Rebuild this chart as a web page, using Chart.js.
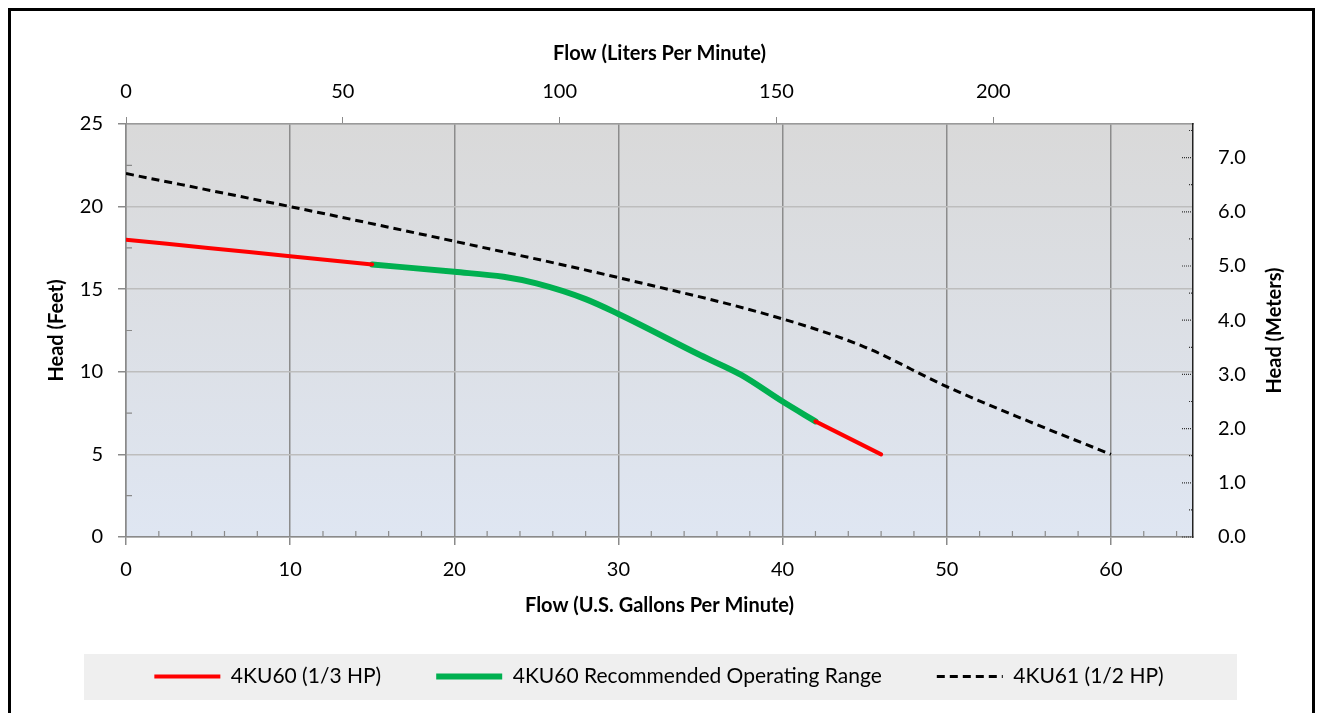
<!DOCTYPE html>
<html>
<head>
<meta charset="utf-8">
<title>Pump curve</title>
<script src="https://cdn.jsdelivr.net/npm/chart.js@4.4.0/dist/chart.umd.min.js"></script>
<style>
  html, body { margin: 0; padding: 0; background: #fff; }
  #wrap { width: 1318px; height: 713px; position: relative; }
</style>
</head>
<body>
<div id="wrap"><canvas id="pumpChart"></canvas></div>
<script>
// flow in US GPM, head in feet
var redGpm    = [0, 5, 10, 15, 30, 42, 44, 46];
var redHead   = [18, 17.5, 17, 16.5, null, 7, 6, 5];
var greenGpm  = [15, 20, 23, 25, 28, 30, 35, 37.5, 40, 42];
var greenHead = [16.5, 16.05, 15.75, 15.35, 14.4, 13.5, 11.0, 9.8, 8.2, 7.0];
var blackGpm  = [0, 10, 20, 30, 40, 45, 50, 55, 60];
var blackHead = [22, 20, 17.9, 15.7, 13.2, 11.5, 9.1, 7.0, 5.0];
var seriesNames = ['4KU60 (1/3 HP)', '4KU60 Recommended Operating Range', '4KU61 (1/2 HP)'];

var GPM_MAX = 65, FT_MAX = 25;
var LPM_PER_GPM = 3.78541, M_PER_FT = 0.3048;

var FONT = 'Lato, "Open Sans", sans-serif';

function toPoints(xs, ys) {
    var pts = [];
    for (var i = 0; i < xs.length; i++) pts.push({x: xs[i], y: ys[i]});
    return pts;
}

// frame, plot gradient, legend panel
var backdrop = {
    id: 'backdrop',
    beforeDraw: function(chart) {
        var ctx = chart.ctx, a = chart.chartArea;
        ctx.save();
        var g = ctx.createLinearGradient(0, a.top, 0, a.bottom);
        g.addColorStop(0, '#d9d9d9');
        g.addColorStop(1, '#dfe6f2');
        ctx.fillStyle = g;
        ctx.fillRect(a.left, a.top, a.right - a.left, a.bottom - a.top);
        ctx.fillStyle = '#efefef';
        ctx.fillRect(84, 654, 1153, 46);
        ctx.restore();
    },
    afterDraw: function(chart) {
        var ctx = chart.ctx, a = chart.chartArea;
        var sx = chart.scales.x, sy = chart.scales.y, sy2 = chart.scales.y2;
        ctx.save();
        // minor ticks, left and bottom
        ctx.strokeStyle = '#8a8a8a';
        ctx.lineWidth = 1.2;
        ctx.beginPath();
        for (var v = 2.5; v < FT_MAX; v += 5) {
            var py = sy.getPixelForValue(v);
            ctx.moveTo(a.left, py); ctx.lineTo(a.left + 6, py);
        }
        for (var gx = 2; gx < GPM_MAX; gx += 2) {
            if (gx % 10 === 0) continue;
            var px = sx.getPixelForValue(gx);
            ctx.moveTo(px, a.bottom); ctx.lineTo(px, a.bottom - 6);
        }
        ctx.stroke();
        // dotted ticks on the meters axis
        ctx.strokeStyle = '#333';
        ctx.setLineDash([1, 1]);
        ctx.beginPath();
        for (var m = 0; m <= 7.5; m += 0.5) {
            var my = sy2.getPixelForValue(m);
            var len = (m % 1 === 0) ? 11 : 4;
            ctx.moveTo(a.right - len, my); ctx.lineTo(a.right, my);
        }
        ctx.stroke();
        ctx.setLineDash([]);
        // right axis title, reading bottom to top
        ctx.translate(1275, (a.top + a.bottom) / 2);
        ctx.rotate(-Math.PI / 2);
        ctx.font = 'bold 20px ' + FONT;
        ctx.fillStyle = '#000';
        ctx.textAlign = 'center';
        ctx.textBaseline = 'middle';
        ctx.fillText('Head (Meters)', 0, 0);
        ctx.restore();
        // outer frame
        ctx.save();
        ctx.strokeStyle = '#000';
        ctx.lineWidth = 3;
        ctx.strokeRect(9.5, 9.5, 1304, 720);
        ctx.restore();
    }
};

var ctx = document.getElementById('pumpChart').getContext('2d');
var pumpChart = new Chart(ctx, {
    type: 'line',
    data: {
        datasets: [{
            label: seriesNames[0],
            data: toPoints(redGpm, redHead),
            borderColor: '#ff0000',
            backgroundColor: '#ff0000',
            borderWidth: 4,
            borderCapStyle: 'round',
            pointRadius: 0,
            pointStyle: 'line',
            spanGaps: false,
            cubicInterpolationMode: 'monotone'
        }, {
            label: seriesNames[1],
            data: toPoints(greenGpm, greenHead),
            borderColor: '#00b050',
            backgroundColor: '#00b050',
            borderWidth: 6,
            borderCapStyle: 'round',
            pointRadius: 0,
            pointStyle: 'line',
            cubicInterpolationMode: 'monotone'
        }, {
            label: seriesNames[2],
            data: toPoints(blackGpm, blackHead),
            borderColor: '#000000',
            backgroundColor: '#000000',
            borderWidth: 3,
            borderDash: [8, 5],
            pointRadius: 0,
            pointStyle: 'line',
            cubicInterpolationMode: 'monotone'
        }]
    },
    options: {
        responsive: true,
        maintainAspectRatio: false,
        animation: false,
        layout: { padding: { left: 0, right: 0, top: 0, bottom: 16 } },
        plugins: {
            tooltip: { enabled: false },
            legend: {
                position: 'bottom',
                labels: {
                    usePointStyle: true,
                    pointStyle: 'line',
                    pointStyleWidth: 66,
                    padding: 55,
                    color: '#000',
                    font: { family: FONT, size: 21 },
                    generateLabels: function(chart) {
                        var items = Chart.defaults.plugins.legend.labels.generateLabels(chart);
                        items.forEach(function(it) {
                            var ds = chart.data.datasets[it.datasetIndex];
                            it.lineDash = ds.borderDash || [];
                            it.lineWidth = ds.borderWidth;
                            it.lineCap = 'butt';
                        });
                        return items;
                    }
                }
            }
        },
        scales: {
            x: {
                type: 'linear',
                position: 'bottom',
                min: 0,
                max: GPM_MAX,
                afterFit: function(s) { s.height = 74; },
                ticks: { stepSize: 10, includeBounds: false, padding: 13, color: '#000', font: { family: FONT, size: 20 } },
                grid: { color: '#8c8c8c', lineWidth: 1.5, tickColor: '#8a8a8a', tickLength: 8 },
                border: { color: '#8a8a8a', width: 1.5 },
                title: { display: true, text: 'Flow (U.S. Gallons Per Minute)', color: '#000', font: { family: FONT, size: 20, weight: 'bold' }, padding: { top: 0, bottom: -7 } }
            },
            x2: {
                type: 'linear',
                position: 'top',
                min: 0,
                max: GPM_MAX * LPM_PER_GPM,
                afterFit: function(s) { s.height = 124; },
                ticks: { stepSize: 50, includeBounds: false, padding: 13, color: '#000', font: { family: FONT, size: 20 } },
                grid: { drawOnChartArea: false, tickColor: '#8a8a8a', tickLength: 7 },
                border: { color: '#9a9a9a', width: 1.5 },
                title: { display: true, text: 'Flow (Liters Per Minute)', color: '#000', font: { family: FONT, size: 20, weight: 'bold' }, padding: { top: 42, bottom: 0 } }
            },
            y: {
                type: 'linear',
                position: 'left',
                min: 0,
                max: FT_MAX,
                afterFit: function(s) { s.width = 126; },
                ticks: { stepSize: 5, padding: 15, color: '#000', font: { family: FONT, size: 20 } },
                grid: { color: '#bdbdbd', lineWidth: 1.5, tickColor: '#8a8a8a', tickLength: 8 },
                border: { color: '#8a8a8a', width: 1.5 },
                title: { display: true, text: 'Head (Feet)', color: '#000', font: { family: FONT, size: 20, weight: 'bold' }, padding: { top: 45, bottom: 0 } }
            },
            y2: {
                type: 'linear',
                position: 'right',
                min: 0,
                max: FT_MAX * M_PER_FT,
                afterFit: function(s) { s.width = 125; },
                ticks: {
                    stepSize: 1, includeBounds: false, padding: 25, color: '#000',
                    font: { family: FONT, size: 20 },
                    callback: function(v) { return Number(v).toFixed(1); }
                },
                grid: { drawOnChartArea: false, drawTicks: false },
                border: { color: '#222', width: 1.5, dash: [2, 1] }
            }
        }
    },
    plugins: [backdrop]
});
</script>
</body>
</html>
